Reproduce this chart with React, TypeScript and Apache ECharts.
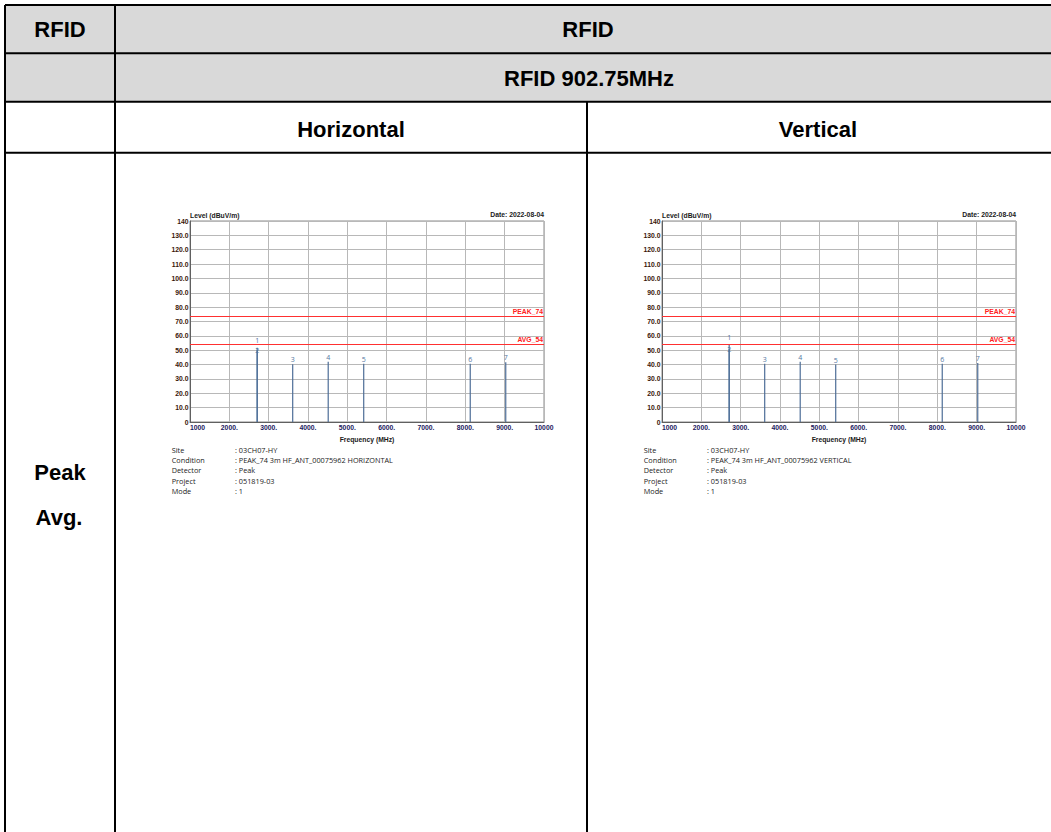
import React, { useEffect, useRef } from "react";
import * as echarts from "echarts";

// ---------- data ----------
const markerIds = ["1", "2", "3", "4", "5", "6", "7"];
const markerFreq = [2708.25, 2708.25, 3611.0, 4513.75, 5416.5, 8124.75, 9027.5];
const levelHorizontal = [51.7, 50.1, 40.2, 42.0, 40.6, 40.6, 41.6];
const levelVertical = [53.8, 50.8, 40.6, 42.0, 40.0, 40.6, 41.1];
const limitValues = [74, 54];
const limitNames = ["PEAK_74", "AVG_54"];
const infoLabels = ["Site", "Condition", "Detector", "Project", "Mode"];
const infoValuesH = [": 03CH07-HY", ": PEAK_74 3m HF_ANT_00075962 HORIZONTAL", ": Peak", ": 051819-03", ": 1"];
const infoValuesV = [": 03CH07-HY", ": PEAK_74 3m HF_ANT_00075962 VERTICAL", ": Peak", ": 051819-03", ": 1"];
const dateText = "Date: 2022-08-04";
const yAxisTitle = "Level (dBuV/m)";
const xAxisTitle = "Frequency (MHz)";
const headerTexts = ["RFID", "RFID", "RFID 902.75MHz", "Horizontal", "Vertical", "Peak", "Avg."];

// ---------- layout ----------
const W = 1051;
const H = 832;
const GRID_TOP = 221;
const GRID_H = 201;
const GRID_W = 354;
const GRID_LEFTS = [190, 662];

const BOLD_FONT = "'Liberation Sans', Arial, sans-serif";
const INFO_FONT = "'Open Sans', 'Noto Sans', sans-serif";

function App() {
  const ref = useRef<HTMLDivElement>(null);

  useEffect(() => {
    if (!ref.current) return;
    const chart = echarts.init(ref.current, undefined, { renderer: "svg" });

    const tableLine = (x1: number, y1: number, x2: number, y2: number) => ({
      type: "line",
      shape: { x1, y1, x2, y2 },
      style: { stroke: "#000", lineWidth: 2 },
      z: 10,
    });
    const headerText = (text: string, x: number, y: number) => ({
      type: "text",
      x,
      y,
      style: {
        text,
        fontFamily: BOLD_FONT,
        fontWeight: "bold",
        fontSize: 22,
        fill: "#000",
        align: "center",
        verticalAlign: "middle",
      },
      z: 11,
    });

    const graphics: any[] = [
      { type: "rect", shape: { x: 5, y: 5, width: W, height: 97 }, style: { fill: "#d9d9d9" }, z: 1 },
      tableLine(5, 5, W + 5, 5),
      tableLine(5, 5, 5, H + 5),
      tableLine(115, 5, 115, H + 5),
      tableLine(5, 53.3, W + 5, 53.3),
      tableLine(5, 101.7, W + 5, 101.7),
      tableLine(5, 152.7, W + 5, 152.7),
      tableLine(587, 101.7, 587, H + 5),
      headerText(headerTexts[0], 60, 29),
      headerText(headerTexts[1], 588, 29),
      headerText(headerTexts[2], 589, 78),
      headerText(headerTexts[3], 351, 129),
      headerText(headerTexts[4], 818, 129),
      headerText(headerTexts[5], 60, 472),
      headerText(headerTexts[6], 59, 517),
    ];

    GRID_LEFTS.forEach((gl, gi) => {
      const smallBold = {
        fontFamily: BOLD_FONT,
        fontWeight: "bold",
        fontSize: 6.8,
      };
      graphics.push({
        type: "text",
        x: gl,
        y: GRID_TOP - 5.5,
        style: { ...smallBold, text: yAxisTitle, fill: "#1a1a1a", align: "left", verticalAlign: "middle" },
      });
      graphics.push({
        type: "text",
        x: gl + GRID_W,
        y: GRID_TOP - 6.5,
        style: { ...smallBold, text: dateText, fill: "#1a1a1a", align: "right", verticalAlign: "middle" },
      });
      const vals = gi === 0 ? infoValuesH : infoValuesV;
      infoLabels.forEach((lab, i) => {
        graphics.push({
          type: "text",
          x: gl - 18.3,
          y: 449.5 + i * 10.4,
          style: { text: lab, fontFamily: INFO_FONT, fontSize: 7.3, fill: "#222", align: "left", verticalAlign: "middle" },
        });
        graphics.push({
          type: "text",
          x: gl + 45,
          y: 449.5 + i * 10.4,
          style: { text: vals[i], fontFamily: INFO_FONT, fontSize: 7.3, fill: "#222", align: "left", verticalAlign: "middle" },
        });
      });
    });

    const grids = GRID_LEFTS.map((l) => ({
      left: l,
      top: GRID_TOP,
      width: GRID_W,
      height: GRID_H,
      show: true,
      borderColor: "#8a8a8a",
      borderWidth: 1,
      backgroundColor: "transparent",
    }));

    const xAxes = GRID_LEFTS.map((_, i) => ({
      type: "value",
      gridIndex: i,
      min: 1000,
      max: 10000,
      interval: 1000,
      name: xAxisTitle,
      nameLocation: "middle",
      nameGap: 14,
      nameTextStyle: { fontFamily: BOLD_FONT, fontWeight: "bold", fontSize: 6.8, color: "#1a1a1a" },
      axisLine: { show: true, lineStyle: { color: "#606060", width: 1 } },
      axisTick: { show: false },
      splitLine: { show: true, lineStyle: { color: "#b8b8b8", width: 1 } },
      axisLabel: {
        margin: 2,
        fontFamily: BOLD_FONT,
        fontWeight: "bold",
        fontSize: 6.8,
        color: "#1c2060",
        showMinLabel: true,
        showMaxLabel: true,
        alignMinLabel: "left",
        formatter: (v: number) => (v === 1000 || v === 10000 ? String(v) : v + "."),
      },
    }));

    const yAxes = GRID_LEFTS.map((_, i) => ({
      type: "value",
      gridIndex: i,
      min: 0,
      max: 140,
      interval: 10,
      axisLine: { show: true, lineStyle: { color: "#606060", width: 1 } },
      axisTick: { show: false },
      splitLine: { show: true, lineStyle: { color: "#b8b8b8", width: 1 } },
      axisLabel: {
        margin: 1.5,
        fontFamily: BOLD_FONT,
        fontWeight: "bold",
        fontSize: 6.8,
        color: "#3a1608",
        showMinLabel: true,
        showMaxLabel: true,
        formatter: (v: number) => (v === 0 || v === 140 ? String(v) : v.toFixed(1)),
      },
    }));

    // small label offsets so the stacked markers 1 and 2 stay readable
    const labelOffsets: number[][] = [[0, -3], [0, 5], [0, 0], [0, 0], [0, 0], [0, 0], [0, 0]];

    const series = [levelHorizontal, levelVertical].map((levels, i) => ({
      type: "bar",
      xAxisIndex: i,
      yAxisIndex: i,
      barWidth: 1.2,
      itemStyle: { color: "#4d6d97" },
      label: {
        show: true,
        position: "top",
        distance: 1,
        formatter: "{b}",
        fontFamily: "'Open Sans', sans-serif",
        fontSize: 7,
        color: "#55779f",
      },
      data: markerFreq.map((f, k) => ({
        name: markerIds[k],
        value: [f, levels[k]],
        label: { offset: labelOffsets[k] },
      })),
      markLine: {
        silent: true,
        symbol: "none",
        lineStyle: { color: "#ff3030", width: 1, type: "solid" },
        label: {
          show: true,
          position: "insideEndTop",
          distance: [1, 1],
          fontFamily: BOLD_FONT,
          fontWeight: "bold",
          fontSize: 6.8,
          color: "#ff2020",
          formatter: (p: any) => p.name,
        },
        data: limitValues.map((v, k) => ({ yAxis: v, name: limitNames[k] })),
      },
    }));

    chart.setOption({
      animation: false,
      backgroundColor: "#fff",
      grid: grids,
      xAxis: xAxes,
      yAxis: yAxes,
      series,
      graphic: { elements: graphics },
    });

    return () => chart.dispose();
  }, []);

  return <div ref={ref} style={{ position: "fixed", left: 0, top: 0, width: W, height: H }} />;
}

export default App;
